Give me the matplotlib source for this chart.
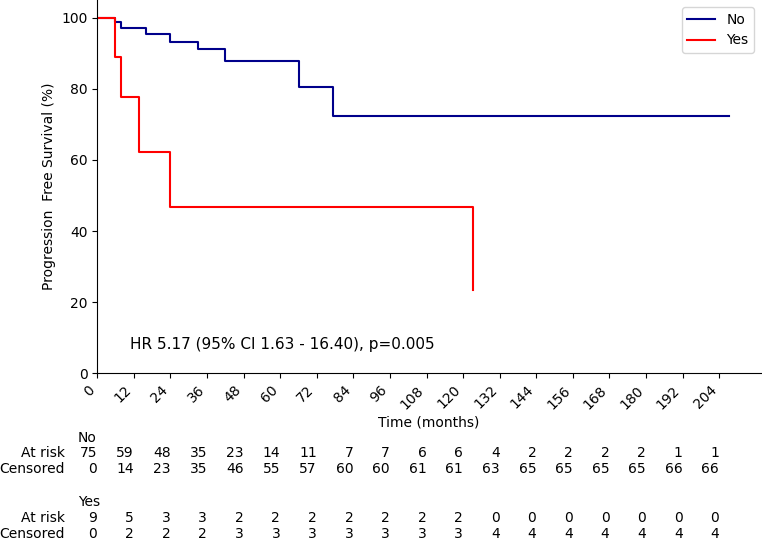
import matplotlib
matplotlib.use("Agg")
import matplotlib.pyplot as plt
from matplotlib.transforms import blended_transform_factory

# Kaplan-Meier step data (months, survival %)
no_times = [0, 5.8, 7.7, 15.9, 23.7, 33.0, 41.8, 66.0, 77.4, 207.3]
no_surv = [100, 98.7, 97.0, 95.3, 93.3, 91.3, 87.9, 80.6, 72.5, 72.5]
yes_times = [0, 5.8, 7.7, 13.8, 23.7, 123.1]
yes_surv = [100, 88.9, 77.8, 62.2, 46.7, 23.3]

tick_times = list(range(0, 205, 12))
no_at_risk = [75, 59, 48, 35, 23, 14, 11, 7, 7, 6, 6, 4, 2, 2, 2, 2, 1, 1]
no_censored = [0, 14, 23, 35, 46, 55, 57, 60, 60, 61, 61, 63, 65, 65, 65, 65, 66, 66]
yes_at_risk = [9, 5, 3, 3, 2, 2, 2, 2, 2, 2, 2, 0, 0, 0, 0, 0, 0, 0]
yes_censored = [0, 2, 2, 2, 3, 3, 3, 3, 3, 3, 3, 4, 4, 4, 4, 4, 4, 4]

annotation = "HR 5.17 (95% CI 1.63 - 16.40), p=0.005"

fig = plt.figure(figsize=(7.62, 5.40), dpi=100)
ax = fig.add_axes([97.3 / 762, 1 - 373.3 / 540, (761 - 97.3) / 762, 373.3 / 540])

ax.plot(no_times, no_surv, drawstyle="steps-post", color="#00008B", lw=1.5, label="No")
ax.plot(yes_times, yes_surv, drawstyle="steps-post", color="red", lw=1.5, label="Yes")

ax.set_xlim(0, 217.7)
ax.set_ylim(0, 105)
ax.set_xticks(tick_times)
ax.set_xticklabels([str(t) for t in tick_times], rotation=45, ha="right")
ax.set_yticks([0, 20, 40, 60, 80, 100])
ax.spines["top"].set_visible(False)
ax.spines["right"].set_visible(False)
ax.set_xlabel("Time (months)", fontsize=10, labelpad=3)
ax.set_ylabel("Progression  Free Survival (%)", fontsize=10)

ax.legend(loc="upper right", fontsize=10)

ax.text(10.7, 8, annotation, fontsize=11, ha="left", va="center")

trans = blended_transform_factory(ax.transData, fig.transFigure)


def fy(px):
    return 1 - px / 540


rows = [
    ("No", None, 437.7),
    ("At risk", no_at_risk, 453.0),
    ("Censored", no_censored, 469.0),
    ("Yes", None, 502.0),
    ("At risk", yes_at_risk, 518.0),
    ("Censored", yes_censored, 533.5),
]
for label, vals, ypx in rows:
    if vals is None:
        fig.text(78 / 762, fy(ypx), label, ha="left", va="center", fontsize=10)
    else:
        fig.text(65 / 762, fy(ypx), label, ha="right", va="center", fontsize=10)
        for t, v in zip(tick_times, vals):
            ax.text(t, fy(ypx), str(v), transform=trans, ha="right", va="center", fontsize=10)

fig.savefig("out.png", dpi=100)
